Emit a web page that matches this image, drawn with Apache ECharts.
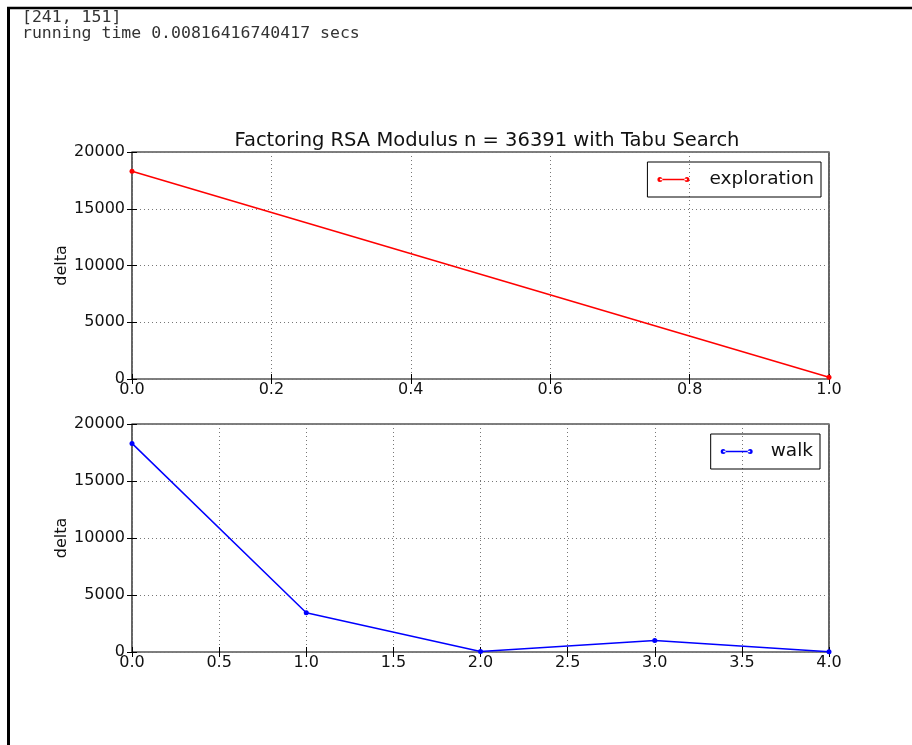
<!DOCTYPE html>
<html>
<head>
<meta charset="utf-8">
<script src="https://cdn.jsdelivr.net/npm/echarts@6/dist/echarts.min.js"></script>
<style>
html, body { margin: 0; padding: 0; background: #fff; }
#main { width: 912px; height: 745px; }
</style>
</head>
<body>
<div id="main"></div>
<script>
// data
var explorationX = [0, 1];
var explorationDelta = [18300, 150];
var walkX = [0, 1, 2, 3, 4];
var walkDelta = [18300, 3450, 50, 1000, 20];

var chartTitle = 'Factoring RSA Modulus n = 36391 with Tabu Search';
var headerLines = ['[241, 151]', 'running time 0.00816416740417 secs'];

function pairs(xs, ys) {
    return xs.map(function (x, i) { return [x, ys[i]]; });
}

var font = 'DejaVu Sans';
var lineIcon = 'path://M0,5a2.5,2.5 0 1,0 5,0a2.5,2.5 0 1,0 -5,0zM27,5a2.5,2.5 0 1,0 5,0a2.5,2.5 0 1,0 -5,0zM2.5,4.3h27v1.4h-27z';

var grids = [
    { left: 132, top: 152, width: 697, height: 227 },
    { left: 132, top: 424, width: 697, height: 228 }
];

function mainX(gi, max, interval) {
    return {
        type: 'value', gridIndex: gi, min: 0, max: max, interval: interval,
        axisLine: { show: false },
        axisTick: { inside: true, length: 5, lineStyle: { color: '#000' } },
        axisLabel: { fontFamily: font, fontSize: 16, color: '#111', margin: 3,
            formatter: function (v) { return v.toFixed(1); } },
        splitLine: { show: true, lineStyle: { color: '#777', type: [1, 3], width: 1 } }
    };
}
function sideX(gi, max, interval) {
    return {
        type: 'value', gridIndex: gi, position: 'top', min: 0, max: max, interval: interval,
        axisLine: { show: false }, axisLabel: { show: false }, splitLine: { show: false },
        axisTick: { inside: true, length: 5, lineStyle: { color: '#000' } }
    };
}
function mainY(gi) {
    return {
        type: 'value', gridIndex: gi, min: 0, max: 20000, interval: 5000,
        name: 'delta', nameLocation: 'middle', nameGap: 62, nameMoveOverlap: false,
        nameTextStyle: { fontFamily: font, fontSize: 16, color: '#111' },
        axisLine: { show: false },
        axisTick: { inside: true, length: 5, lineStyle: { color: '#000' } },
        axisLabel: { fontFamily: font, fontSize: 16, color: '#111', margin: 7,
            formatter: function (v) { return String(v); } },
        splitLine: { show: true, lineStyle: { color: '#777', type: [1, 3], width: 1 } }
    };
}
function sideY(gi) {
    return {
        type: 'value', gridIndex: gi, position: 'right', min: 0, max: 20000, interval: 5000,
        axisLine: { show: false }, axisLabel: { show: false }, splitLine: { show: false },
        axisTick: { inside: true, length: 5, lineStyle: { color: '#000' } }
    };
}

function legendBox(name, right, top, gap) {
    return {
        data: [{ name: name, icon: lineIcon }],
        right: right, top: top,
        borderColor: '#000', borderWidth: 1, borderRadius: 0,
        padding: [8, 7, 8, 10],
        itemWidth: 32, itemHeight: 5, itemGap: 0,
        textStyle: { fontFamily: font, fontSize: 18.5, color: '#111', padding: [0, 0, 0, gap] }
    };
}

var chart = echarts.init(document.getElementById('main'));

chart.setOption({
    animation: false,
    backgroundColor: '#fff',
    title: {
        text: chartTitle, left: 482, top: 126, textAlign: 'center',
        textStyle: { fontFamily: font, fontSize: 19.5, fontWeight: 'normal', color: '#111' }
    },
    grid: grids.map(function (g) {
        return Object.assign({ show: true, borderColor: '#000', borderWidth: 1.2, backgroundColor: 'transparent' }, g);
    }),
    legend: [legendBox('exploration', 91, 162, 15), legendBox('walk', 92, 434, 13)],
    xAxis: [mainX(0, 1, 0.2), mainX(1, 4, 0.5), sideX(0, 1, 0.2), sideX(1, 4, 0.5)],
    yAxis: [mainY(0), mainY(1), sideY(0), sideY(1)],
    graphic: [
        { type: 'line', shape: { x1: 7, y1: 8, x2: 912, y2: 8 }, style: { stroke: '#000', lineWidth: 2.5 } },
        { type: 'line', shape: { x1: 8.5, y1: 7, x2: 8.5, y2: 745 }, style: { stroke: '#000', lineWidth: 3 } },
        { type: 'text', left: 22, top: 9, style: { text: headerLines[0], font: '16.5px "DejaVu Sans Mono"', fill: '#333' } },
        { type: 'text', left: 22, top: 25, style: { text: headerLines[1], font: '16.5px "DejaVu Sans Mono"', fill: '#333' } }
    ],
    series: [
        {
            name: 'exploration', type: 'line', xAxisIndex: 0, yAxisIndex: 0,
            data: pairs(explorationX, explorationDelta),
            symbol: 'circle', symbolSize: 5, showSymbol: true,
            color: '#ff0000', lineStyle: { width: 1.5 }
        },
        {
            name: 'walk', type: 'line', xAxisIndex: 1, yAxisIndex: 1,
            data: pairs(walkX, walkDelta),
            symbol: 'circle', symbolSize: 5, showSymbol: true,
            color: '#0000ff', lineStyle: { width: 1.5 }
        }
    ]
});
</script>
</body>
</html>
